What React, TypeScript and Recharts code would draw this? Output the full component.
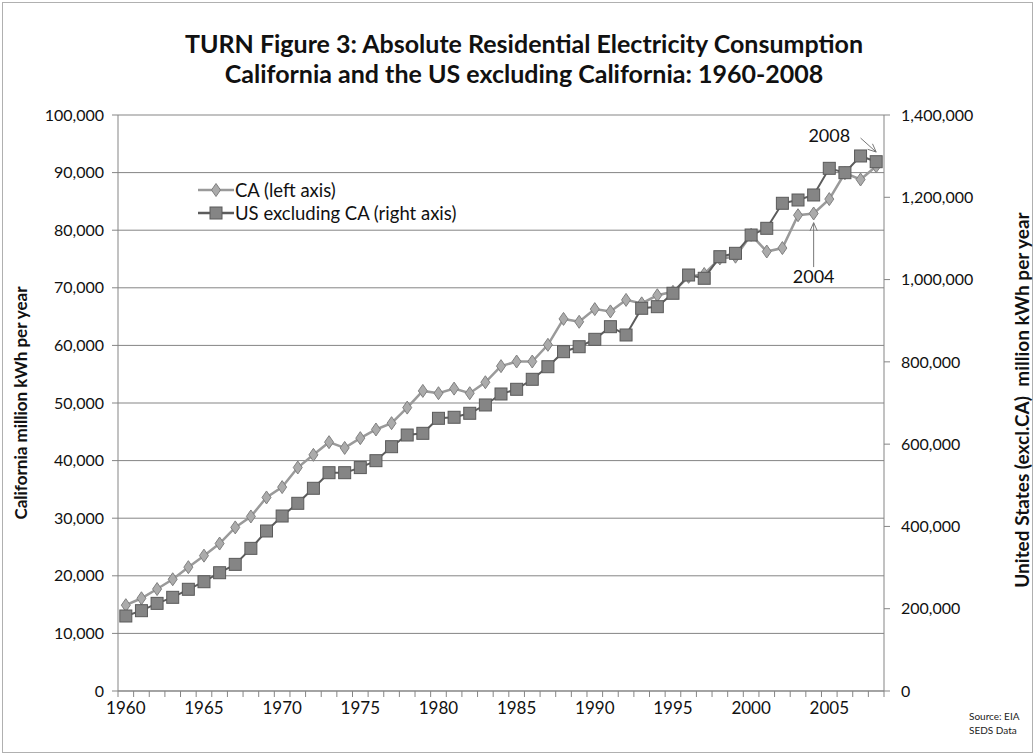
import React from "react"
import { LineChart, Line, XAxis, YAxis, CartesianGrid, Legend, ReferenceLine, ReferenceDot } from "recharts"

const years = [
  "1960", "1961", "1962", "1963", "1964", "1965", "1966", "1967", "1968", "1969",
  "1970", "1971", "1972", "1973", "1974", "1975", "1976", "1977", "1978", "1979",
  "1980", "1981", "1982", "1983", "1984", "1985", "1986", "1987", "1988", "1989",
  "1990", "1991", "1992", "1993", "1994", "1995", "1996", "1997", "1998", "1999",
  "2000", "2001", "2002", "2003", "2004", "2005", "2006", "2007", "2008",
]

// California, million kWh (left axis)
const caValues = [
  14900, 16100, 17700, 19400, 21500, 23500, 25600, 28400, 30300, 33600,
  35400, 38800, 41000, 43200, 42200, 43900, 45400, 46500, 49200, 52100,
  51700, 52500, 51700, 53600, 56400, 57200, 57200, 60100, 64600, 64100,
  66300, 65900, 67900, 67300, 68700, 69300, 71900, 72400, 75100, 75400,
  79200, 76300, 76900, 82600, 82900, 85400, 89900, 88800, 91100,
]

// US excluding California, million kWh (right axis)
const usValues = [
  182300, 195200, 213000, 227700, 247200, 265600, 287500, 307800, 346700, 388900,
  425300, 456200, 492700, 530600, 530600, 543000, 559800, 593800, 622200, 626300,
  662800, 665300, 675000, 695200, 721900, 733300, 757600, 788200, 824700, 836800,
  854800, 885500, 865300, 930200, 934100, 966700, 1011100, 1003100, 1055600, 1063800,
  1108300, 1124600, 1185400, 1193400, 1205600, 1270400, 1259800, 1300400, 1286500,
]

const leftTicks = [0, 10000, 20000, 30000, 40000, 50000, 60000, 70000, 80000, 90000, 100000]
const rightTicks = [0, 200000, 400000, 600000, 800000, 1000000, 1200000, 1400000]

const chartData = years.map((year, i) => ({ year, ca: caValues[i], us: usValues[i] }))

const FONT = "Lato, 'Open Sans', sans-serif"
const AXIS = "#858585"
const CA_LINE = "#9a9a9a"
const US_LINE = "#5c5c5c"

const PLOT_LEFT = 118
const PLOT_RIGHT = 884
const HALF_STEP = (PLOT_RIGHT - PLOT_LEFT) / years.length / 2

const fmt = (v: number) => v.toLocaleString("en-US")

function Diamond({ cx, cy }: { cx: number; cy: number }) {
  return (
    <polygon
      points={`${cx},${cy - 6.5} ${cx + 4.5},${cy} ${cx},${cy + 6.5} ${cx - 4.5},${cy}`}
      fill="#ababab"
      stroke="#808080"
      strokeWidth={1}
    />
  )
}

function Square({ cx, cy }: { cx: number; cy: number }) {
  return <rect x={cx - 6} y={cy - 6} width={12} height={12} fill="#858585" stroke="#5a5a5a" strokeWidth={1} />
}

const caDot = (props: any) => {
  const { cx, cy, index } = props
  if (cx == null || cy == null) return <g key={`ca-${index}`} />
  return <g key={`ca-${index}`}><Diamond cx={cx} cy={cy} /></g>
}

const usDot = (props: any) => {
  const { cx, cy, index } = props
  if (cx == null || cy == null) return <g key={`us-${index}`} />
  return <g key={`us-${index}`}><Square cx={cx} cy={cy} /></g>
}

function YearTick(props: any) {
  const { x, y, payload, index } = props
  const year = Number(payload.value)
  const last = index === years.length - 1
  return (
    <g>
      <line x1={x - HALF_STEP} y1={y} x2={x - HALF_STEP} y2={y + 6} stroke={AXIS} />
      {last && <line x1={x + HALF_STEP} y1={y} x2={x + HALF_STEP} y2={y + 6} stroke={AXIS} />}
      {year % 5 === 0 && (
        <text x={x} y={y + 23} textAnchor="middle" fontSize={17} fontFamily={FONT} fill="#111">
          {payload.value}
        </text>
      )}
    </g>
  )
}

const arrowShape = (props: any) => {
  const { x1, y1, x2, y2 } = props
  if ([x1, y1, x2, y2].some((v) => v == null)) return <g />
  const ang = Math.atan2(y2 - y1, x2 - x1)
  const len = 9
  const spread = 0.42
  const ax = x2 - len * Math.cos(ang - spread)
  const ay = y2 - len * Math.sin(ang - spread)
  const bx = x2 - len * Math.cos(ang + spread)
  const by = y2 - len * Math.sin(ang + spread)
  return (
    <g>
      <line x1={x1} y1={y1} x2={x2} y2={y2} stroke="#777" strokeWidth={1} />
      <polyline points={`${ax},${ay} ${x2},${y2} ${bx},${by}`} fill="none" stroke="#777" strokeWidth={1} />
    </g>
  )
}

function LegendContent(props: any) {
  const { payload } = props
  return (
    <div style={{ fontFamily: FONT, fontSize: 18.5, color: "#111" }}>
      {(payload || []).map((entry: any) => (
        <div key={entry.value} style={{ display: "flex", alignItems: "center", height: 23 }}>
          <svg width={36} height={16} style={{ marginRight: 1 }}>
            <line x1={0} y1={8} x2={36} y2={8} stroke={entry.color} strokeWidth={2.5} />
            {entry.dataKey === "ca" ? <Diamond cx={18} cy={8} /> : <Square cx={18} cy={8} />}
          </svg>
          <span>{entry.value}</span>
        </div>
      ))}
    </div>
  )
}

export default function App() {
  return (
    <div
      style={{
        position: "absolute",
        left: 0,
        top: 0,
        width: 1035,
        height: 755,
        background: "#fff",
        fontFamily: FONT,
      }}
    >
      <div
        style={{
          position: "absolute",
          left: 2,
          top: 2,
          width: 1029,
          height: 749,
          border: "1px solid #b0b0b0",
        }}
      />
      <div
        style={{
          position: "absolute",
          left: 0,
          top: 28,
          width: 1048,
          textAlign: "center",
          fontWeight: 700,
          fontSize: 25,
          lineHeight: "30px",
          color: "#111",
        }}
      >
        TURN Figure 3: Absolute Residential Electricity Consumption
        <br />
        California and the US excluding California: 1960-2008
      </div>

      <div
        style={{
          position: "absolute",
          left: 20,
          top: 403,
          transform: "translate(-50%, -50%) rotate(-90deg)",
          whiteSpace: "nowrap",
          fontWeight: 700,
          fontSize: 17,
          color: "#111",
        }}
      >
        California million kWh per year
      </div>
      <div
        style={{
          position: "absolute",
          left: 1021,
          top: 400,
          transform: "translate(-50%, -50%) rotate(-90deg)",
          whiteSpace: "pre",
          fontWeight: 700,
          fontSize: 19,
          color: "#111",
        }}
      >
        {"United States (excl.CA)  million kWh per year"}
      </div>

      <div style={{ position: "absolute", left: 969, top: 709, fontSize: 10, lineHeight: "14px", color: "#222" }}>
        Source: EIA
        <br />
        SEDS Data
      </div>

      <LineChart
        width={1035}
        height={755}
        data={chartData}
        margin={{ top: 115, right: 71, bottom: 24, left: 8 }}
        style={{ position: "absolute", left: 0, top: 0 }}
      >
        <CartesianGrid yAxisId="left" vertical={false} stroke={AXIS} strokeWidth={1} />
        <XAxis
          dataKey="year"
          interval={0}
          padding={{ left: HALF_STEP, right: HALF_STEP }}
          tickLine={false}
          tickSize={0}
          tickMargin={0}
          height={40}
          axisLine={{ stroke: AXIS }}
          tick={<YearTick />}
        />
        <YAxis
          yAxisId="left"
          width={110}
          domain={[0, 100000]}
          ticks={leftTicks}
          tickFormatter={fmt}
          tickSize={6}
          tickMargin={8}
          axisLine={{ stroke: AXIS }}
          tickLine={{ stroke: AXIS }}
          tick={{ fontSize: 16, fontFamily: FONT, fill: "#111" }}
        />
        <YAxis
          yAxisId="right"
          orientation="right"
          width={80}
          domain={[0, 1400000]}
          ticks={rightTicks}
          tickFormatter={fmt}
          tickSize={6}
          tickMargin={11}
          axisLine={{ stroke: AXIS }}
          tickLine={{ stroke: AXIS }}
          tick={{ fontSize: 16, fontFamily: FONT, fill: "#111", textAnchor: "start" }}
        />
        <Legend
          layout="vertical"
          align="center"
          verticalAlign="middle"
          content={<LegendContent />}
          wrapperStyle={{ left: 198, top: 178, width: 320 }}
        />
        <Line
          yAxisId="left"
          dataKey="ca"
          name="CA (left axis)"
          stroke={CA_LINE}
          strokeWidth={2.5}
          dot={caDot}
          activeDot={false}
          isAnimationActive={false}
        />
        <Line
          yAxisId="right"
          dataKey="us"
          name="US excluding CA (right axis)"
          stroke={US_LINE}
          strokeWidth={2}
          dot={usDot}
          activeDot={false}
          isAnimationActive={false}
        />
        <ReferenceDot
          yAxisId="right"
          x="2005"
          y={1349000}
          r={1}
          fill="none"
          stroke="none"
          label={{ value: "2008", position: "center", fontSize: 18, fontFamily: FONT, fill: "#111" }}
        />
        <ReferenceLine
          yAxisId="right"
          segment={[
            { x: "2007", y: 1344000 },
            { x: "2008", y: 1310000 },
          ]}
          shape={arrowShape}
        />
        <ReferenceDot
          yAxisId="left"
          x="2004"
          y={71900}
          r={1}
          fill="none"
          stroke="none"
          label={{ value: "2004", position: "center", fontSize: 18, fontFamily: FONT, fill: "#111" }}
        />
        <ReferenceLine
          yAxisId="left"
          segment={[
            { x: "2004", y: 73600 },
            { x: "2004", y: 81300 },
          ]}
          shape={arrowShape}
        />
      </LineChart>
    </div>
  )
}
